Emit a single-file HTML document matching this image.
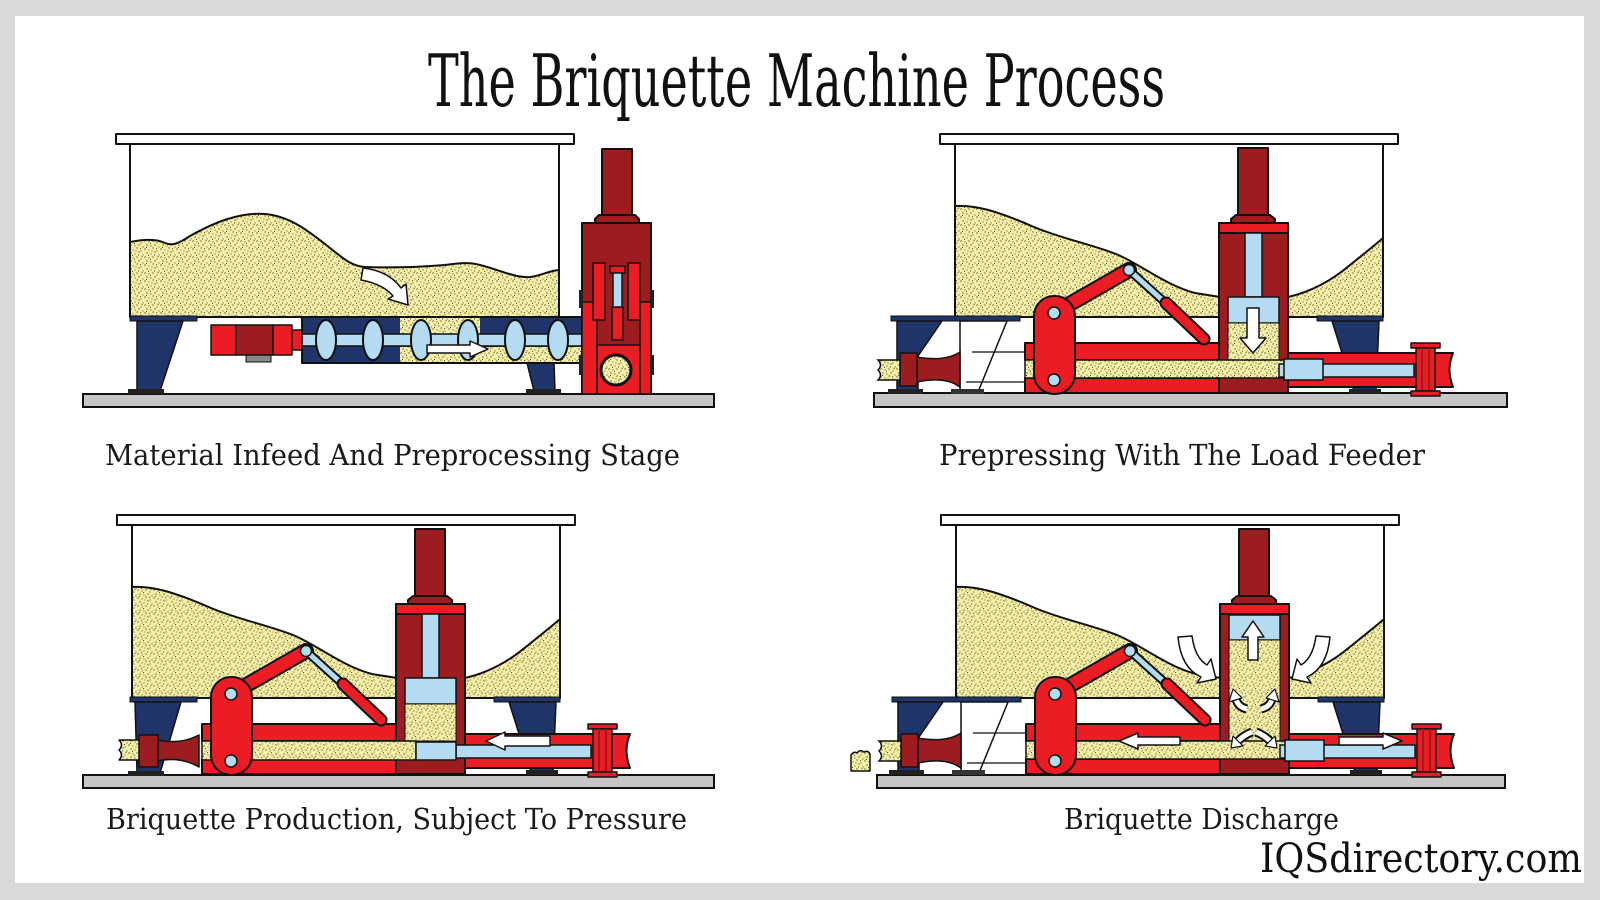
<!DOCTYPE html>
<html><head><meta charset="utf-8"><style>
html,body{margin:0;padding:0;background:#d9d9d9;}
svg{display:block;}
</style></head><body>
<svg width="1600" height="900" viewBox="0 0 1600 900" xmlns="http://www.w3.org/2000/svg" xmlns:xlink="http://www.w3.org/1999/xlink">
<defs>
<pattern id="sd" width="16" height="16" patternUnits="userSpaceOnUse">
<rect width="16" height="16" fill="#f5efa6"/>
<g fill="#1e1e18">
<circle cx="1" cy="1" r=".6"/><circle cx="5" cy="2" r=".55"/><circle cx="9" cy="1" r=".6"/><circle cx="13" cy="3" r=".55"/><circle cx="3" cy="5" r=".6"/><circle cx="7" cy="6" r=".55"/><circle cx="11" cy="5" r=".6"/><circle cx="15" cy="7" r=".55"/><circle cx="1" cy="9" r=".6"/><circle cx="5" cy="10" r=".55"/><circle cx="9" cy="8" r=".6"/><circle cx="13" cy="11" r=".55"/><circle cx="3" cy="13" r=".6"/><circle cx="7" cy="14" r=".55"/><circle cx="11" cy="12" r=".6"/><circle cx="15" cy="15" r=".55"/><circle cx="2.5" cy="7.5" r=".5"/><circle cx="10.5" cy="15" r=".5"/><circle cx="14" cy=".5" r=".5"/><circle cx="8" cy="11" r=".5"/><circle cx="12.5" cy="8.5" r=".5"/><circle cx="4.5" cy="15.5" r=".5"/><circle cx="6.5" cy="3.5" r=".5"/>
</g>
</pattern>

<!-- common press machine (panel 2 frame) -->
<g id="m" stroke-linejoin="round">
 <path d="M955,206 C975,205 995,210 1034,227 C1060,238 1090,244 1116,254 C1140,264 1165,285 1195,293 L1220,297 L1288,297 C1310,292 1330,282 1350,265 C1365,253 1375,245 1383,238 L1383,317 L955,317 Z" fill="url(#sd)"/>
 <path d="M955,206 C975,205 995,210 1034,227 C1060,238 1090,244 1116,254 C1140,264 1165,285 1195,293 L1220,297 M1288,297 C1310,292 1330,282 1350,265 C1365,253 1375,245 1383,238" fill="none" stroke="#111" stroke-width="2"/>
 <path d="M955,144 V317 H1383 V144" fill="none" stroke="#111" stroke-width="2"/>
 <rect x="940" y="134" width="458" height="10" fill="#fff" stroke="#111" stroke-width="2"/>
 <rect x="1317" y="316" width="66" height="5" fill="#1f3468" stroke="#111" stroke-width="1"/>
 <polygon points="1332,321 1379,321 1376,391 1354,391" fill="#1f3468" stroke="#111" stroke-width="1.5"/>
 <rect x="1349" y="389" width="32" height="5" fill="#222"/>
 <rect x="1025" y="343" width="194" height="17" fill="#ec1c24" stroke="#111" stroke-width="2"/>
 <rect x="1025" y="378" width="194" height="15" fill="#ec1c24" stroke="#111" stroke-width="2"/>
 <path d="M1288,353 H1453 Q1446,370 1453,387 H1288 Z" fill="#ec1c24" stroke="#111" stroke-width="2"/>
 <!-- arm -->
 <line x1="1054" y1="313" x2="1129" y2="270" stroke="#111" stroke-width="16" stroke-linecap="round"/>
 <line x1="1054" y1="313" x2="1129" y2="270" stroke="#ec1c24" stroke-width="12" stroke-linecap="round"/>
 <line x1="1129" y1="270" x2="1170" y2="307" stroke="#111" stroke-width="9"/>
 <line x1="1129" y1="270" x2="1170" y2="307" stroke="#b3dcf3" stroke-width="5"/>
 <line x1="1166" y1="303" x2="1204" y2="339" stroke="#111" stroke-width="13" stroke-linecap="round"/>
 <line x1="1166" y1="303" x2="1204" y2="339" stroke="#ec1c24" stroke-width="9" stroke-linecap="round"/>
 <circle cx="1129" cy="270" r="5.5" fill="#b3dcf3" stroke="#111" stroke-width="1.5"/>
 <!-- column -->
 <rect x="1238" y="148" width="30" height="68" fill="#9d1c20" stroke="#111" stroke-width="2"/>
 <path d="M1236,215 H1270 L1275,219 V223 H1231 V219 Z" fill="#9d1c20" stroke="#111" stroke-width="2"/>
 <rect x="1219" y="223" width="69" height="170" fill="#9d1c20" stroke="#111" stroke-width="2"/>
 <rect x="1219" y="223" width="69" height="10" fill="#ec1c24" stroke="#111" stroke-width="2"/>
 <!-- flange -->
 <rect x="1411" y="343" width="29" height="5" fill="#ec1c24" stroke="#111" stroke-width="1.5"/>
 <rect x="1416" y="348" width="19" height="43" fill="#ec1c24" stroke="#111" stroke-width="1.5"/>
 <line x1="1422" y1="348" x2="1422" y2="391" stroke="#9d1c20" stroke-width="2"/>
 <line x1="1429" y1="348" x2="1429" y2="391" stroke="#9d1c20" stroke-width="2"/>
 <rect x="1411" y="391" width="29" height="5" fill="#ec1c24" stroke="#111" stroke-width="1.5"/>
</g>

<!-- lever plate (drawn on top) -->
<g id="lp">
 <rect x="1034" y="296" width="41" height="98" rx="20" fill="#ec1c24" stroke="#111" stroke-width="2"/>
 <circle cx="1054" cy="313" r="6" fill="#b3dcf3" stroke="#111" stroke-width="1.5"/>
 <circle cx="1054" cy="380" r="6" fill="#b3dcf3" stroke="#111" stroke-width="1.5"/>
</g>

<!-- left assembly for panels 2 and 4 -->
<g id="la">
 <rect x="891" y="316" width="129" height="5" fill="#1f3468" stroke="#111" stroke-width="1"/>
 <polygon points="897,321 942,321 918,356 918,392 897,392" fill="#1f3468" stroke="#111" stroke-width="1.5"/>
 <rect x="888" y="389" width="35" height="5" fill="#222"/>
 <polygon points="960,321 1007,321 978,392 960,392" fill="#fff" stroke="#111" stroke-width="1.5"/>
 <path d="M972,352 H1025 M966,382 H1025" stroke="#111" stroke-width="1.2" fill="none"/>
 <rect x="951" y="389" width="33" height="5" fill="#333"/>
 <path d="M917,357 Q945,362 960,352 V387 Q945,376 917,382 Z" fill="#9d1c20" stroke="#111" stroke-width="1.5"/>
 <rect x="900" y="353" width="17" height="33" fill="#9d1c20" stroke="#111" stroke-width="1.5"/>
 <path d="M900,360 H878 q5,5 0,10 q5,5 0,10 H900 Z" fill="url(#sd)" stroke="#111" stroke-width="1.5"/>
</g>
</defs>

<!-- background -->
<rect width="1600" height="900" fill="#d9d9d9"/>
<rect x="15" y="16" width="1569" height="867" fill="#ffffff"/>

<!-- title -->
<text x="428" y="106" font-family="'DejaVu Serif','Liberation Serif',serif" font-size="72" fill="#111" textLength="737" lengthAdjust="spacingAndGlyphs">The Briquette Machine Process</text>

<!-- base plates -->
<rect x="83" y="394" width="631" height="13" fill="#c6c6c6" stroke="#111" stroke-width="2"/>
<rect x="874" y="393" width="633" height="14" fill="#c6c6c6" stroke="#111" stroke-width="2"/>
<rect x="83" y="775" width="631" height="13" fill="#c6c6c6" stroke="#111" stroke-width="2"/>
<rect x="877" y="775" width="628" height="13" fill="#c6c6c6" stroke="#111" stroke-width="2"/>

<!-- ============ PANEL 1 ============ -->
<g stroke-linejoin="round">
 <path d="M130,242 C140,240 155,238 165,243 C172,246 178,244 190,236 C215,222 240,212 265,214 C290,216 310,232 330,248 C345,260 352,266 365,267 C390,268 420,267 445,265 C460,263 470,262 480,265 C500,270 515,278 530,277 C540,276 548,271 559,270 L559,316 L130,316 Z" fill="url(#sd)"/>
 <path d="M130,242 C140,240 155,238 165,243 C172,246 178,244 190,236 C215,222 240,212 265,214 C290,216 310,232 330,248 C345,260 352,266 365,267 C390,268 420,267 445,265 C460,263 470,262 480,265 C500,270 515,278 530,277 C540,276 548,271 559,270" fill="none" stroke="#111" stroke-width="2"/>
 <path d="M130,144 V317 H559 V144" fill="none" stroke="#111" stroke-width="2"/>
 <rect x="116" y="134" width="458" height="10" fill="#fff" stroke="#111" stroke-width="2"/>
 <rect x="130" y="316" width="67" height="5" fill="#1f3468" stroke="#111" stroke-width="1"/>
 <polygon points="137,321 183,321 160,391 137,391" fill="#1f3468" stroke="#111" stroke-width="1.5"/>
 <rect x="128" y="389" width="36" height="5" fill="#222"/>
 <polygon points="527,363 554,363 555,391 534,391" fill="#1f3468" stroke="#111" stroke-width="1.5"/>
 <rect x="526" y="389" width="35" height="5" fill="#222"/>
 <!-- tube -->
 <rect x="302" y="317" width="283" height="46" fill="#1f3468" stroke="#111" stroke-width="2"/>
 <rect x="400" y="347" width="185" height="15" fill="url(#sd)"/>
 <rect x="400" y="318" width="80" height="16" fill="url(#sd)"/>
 <rect x="302" y="334" width="283" height="12" fill="#b3dcf3" stroke="#111" stroke-width="1.5"/>
 <g fill="#b3dcf3" stroke="#111" stroke-width="2">
  <ellipse cx="326" cy="340" rx="10" ry="20"/>
  <ellipse cx="373" cy="340" rx="10" ry="20"/>
  <ellipse cx="421" cy="340" rx="10" ry="20"/>
  <ellipse cx="468" cy="340" rx="10" ry="20"/>
  <ellipse cx="515" cy="340" rx="10" ry="20"/>
  <ellipse cx="558" cy="340" rx="10" ry="20"/>
 </g>
 <polygon points="427,345 470,345 470,341 488,349 470,357 470,353 427,353" fill="#fff" stroke="#111" stroke-width="1.5"/>
 <!-- motor -->
 <rect x="246" y="354" width="25" height="8" fill="#888" stroke="#111" stroke-width="1"/>
 <rect x="211" y="325" width="25" height="30" fill="#ec1c24" stroke="#111" stroke-width="1.5"/>
 <rect x="236" y="325" width="37" height="30" fill="#9d1c20" stroke="#111" stroke-width="1.5"/>
 <rect x="273" y="325" width="19" height="30" fill="#ec1c24" stroke="#111" stroke-width="1.5"/>
 <rect x="292" y="330" width="10" height="20" fill="#ec1c24" stroke="#111" stroke-width="1.5"/>
 <!-- curved arrow -->
 <path d="M363,268 Q389,271 401,288 L406,284 L408,305 L388,299 L393,296 Q383,284 361,280 Z" fill="#fff" stroke="#111" stroke-width="1.5"/>
 <!-- press -->
 <rect x="602" y="149" width="30" height="67" fill="#9d1c20" stroke="#111" stroke-width="2"/>
 <path d="M599,215 H635 L639,219 V223 H595 V219 Z" fill="#9d1c20" stroke="#111" stroke-width="2"/>
 <rect x="582" y="223" width="69" height="171" fill="#9d1c20" stroke="#111" stroke-width="2"/>
 <rect x="582" y="302" width="15" height="92" fill="#ec1c24" stroke="#111" stroke-width="1.5"/>
 <rect x="640" y="302" width="11" height="92" fill="#ec1c24" stroke="#111" stroke-width="1.5"/>
 <rect x="597" y="345" width="43" height="49" fill="#ec1c24" stroke="#111" stroke-width="1.5"/>
 <rect x="593" y="263" width="12" height="57" fill="#ec1c24" stroke="#111" stroke-width="1.5"/>
 <rect x="628" y="263" width="12" height="57" fill="#ec1c24" stroke="#111" stroke-width="1.5"/>
 <rect x="612" y="307" width="11" height="33" fill="#ec1c24" stroke="#111" stroke-width="1.5"/>
 <rect x="613" y="272" width="9" height="35" fill="#b3dcf3" stroke="#111" stroke-width="1.5"/>
 <rect x="610" y="266" width="15" height="7" fill="#ec1c24" stroke="#111" stroke-width="1.5"/>
 <circle cx="616" cy="370" r="15" fill="url(#sd)" stroke="#111" stroke-width="3"/>
 <rect x="579" y="290" width="4" height="18" fill="#222"/>
 <rect x="650" y="290" width="4" height="18" fill="#222"/>
 <rect x="579" y="355" width="4" height="20" fill="#222"/>
 <rect x="650" y="355" width="4" height="20" fill="#222"/>
</g>

<!-- ============ PANEL 2 ============ -->
<use xlink:href="#m" href="#m"/>
<use xlink:href="#la" href="#la"/>
<g stroke-linejoin="round">
 <rect x="1245" y="233" width="17" height="64" fill="#b3dcf3" stroke="#111" stroke-width="1.5"/>
 <rect x="1228" y="297" width="51" height="26" fill="#b3dcf3" stroke="#111" stroke-width="1.5"/>
 <rect x="1228" y="323" width="51" height="37" fill="url(#sd)" stroke="#111" stroke-width="1"/>
 <polygon points="1247,308 1259,308 1259,338 1266,338 1253,353 1240,338 1247,338" fill="#fff" stroke="#111" stroke-width="1.5"/>
 <rect x="1025" y="360" width="259" height="18" fill="url(#sd)" stroke="#111" stroke-width="1.5"/>
 <rect x="1279" y="364" width="135" height="13" fill="#b3dcf3" stroke="#111" stroke-width="1.5"/>
 <rect x="1284" y="359" width="39" height="21" fill="#b3dcf3" stroke="#111" stroke-width="1.5"/>
</g>
<use xlink:href="#lp" href="#lp"/>

<!-- ============ PANEL 3 ============ -->
<g transform="translate(-823,381)">
 <use xlink:href="#m" href="#m"/>
 <rect x="1245" y="233" width="17" height="64" fill="#b3dcf3" stroke="#111" stroke-width="1.5"/>
 <rect x="1228" y="297" width="51" height="26" fill="#b3dcf3" stroke="#111" stroke-width="1.5"/>
 <rect x="1228" y="323" width="51" height="37" fill="url(#sd)" stroke="#111" stroke-width="1"/>
 <rect x="1025" y="360" width="214" height="19" fill="url(#sd)" stroke="#111" stroke-width="1.5"/>
 <rect x="1279" y="364" width="135" height="13" fill="#b3dcf3" stroke="#111" stroke-width="1.5"/>
 <rect x="1239" y="361" width="40" height="18" fill="#b3dcf3" stroke="#111" stroke-width="1.5"/>
 <use xlink:href="#lp" href="#lp"/>
</g>
<g stroke-linejoin="round">
 <rect x="130" y="697" width="67" height="5" fill="#1f3468" stroke="#111" stroke-width="1"/>
 <polygon points="135,702 181,702 160,773 137,773" fill="#1f3468" stroke="#111" stroke-width="1.5"/>
 <rect x="128" y="771" width="36" height="5" fill="#222"/>
 <path d="M158,740 Q180,745 199,735 V767 Q180,756 158,761 Z" fill="#9d1c20" stroke="#111" stroke-width="1.5"/>
 <rect x="139" y="735" width="19" height="32" fill="#9d1c20" stroke="#111" stroke-width="1.5"/>
 <path d="M139,740 H119 q5,5 0,10 q5,5 0,10 H139 Z" fill="url(#sd)" stroke="#111" stroke-width="1.5"/>
 <polygon points="550,736 505,736 505,732 486,741 505,750 505,746 550,746" fill="#fff" stroke="#111" stroke-width="1.5"/>
</g>

<!-- ============ PANEL 4 ============ -->
<g transform="translate(1,381)">
 <use xlink:href="#m" href="#m"/>
 <use xlink:href="#la" href="#la"/>
 <rect x="1228" y="234" width="51" height="25" fill="#b3dcf3" stroke="#111" stroke-width="1.5"/>
 <rect x="1228" y="259" width="51" height="101" fill="url(#sd)" stroke="#111" stroke-width="1"/>
 <rect x="1025" y="360" width="259" height="18" fill="url(#sd)" stroke="#111" stroke-width="1.5"/>
 <rect x="1279" y="364" width="135" height="13" fill="#b3dcf3" stroke="#111" stroke-width="1.5"/>
 <rect x="1284" y="359" width="39" height="21" fill="#b3dcf3" stroke="#111" stroke-width="1.5"/>
 <use xlink:href="#lp" href="#lp"/>
</g>
<g stroke-linejoin="round">
 <path d="M851,771 V755 q3,-4 6,-2 q3,-4 7,-1 q4,-2 6,2 V771 Z" fill="url(#sd)" stroke="#111" stroke-width="1.5"/>
 <polygon points="1248,660 1248,637 1242,637 1253,621 1264,637 1258,637 1258,660" fill="#fff" stroke="#111" stroke-width="1.5"/>
 <!-- big curved arrows -->
 <path d="M1178,637 L1192,636 Q1195,658 1207,665 L1211,659 L1216,679 L1197,683 L1201,677 Q1181,668 1178,637 Z" fill="#fff" stroke="#111" stroke-width="1.5"/>
 <path d="M1330,637 L1316,636 Q1313,658 1301,665 L1297,659 L1292,679 L1311,683 L1307,677 Q1327,668 1330,637 Z" fill="#fff" stroke="#111" stroke-width="1.5"/>
 <!-- small arrows -->
 <g fill="none">
  <path d="M1247,709 Q1238,707 1236,699" stroke="#111" stroke-width="9"/>
  <path d="M1247,709 Q1238,707 1236,699" stroke="#fff" stroke-width="5"/>
  <path d="M1261,709 Q1270,707 1272,699" stroke="#111" stroke-width="9"/>
  <path d="M1261,709 Q1270,707 1272,699" stroke="#fff" stroke-width="5"/>
  <path d="M1252,732 Q1244,735 1238,741" stroke="#111" stroke-width="9"/>
  <path d="M1252,732 Q1244,735 1238,741" stroke="#fff" stroke-width="5"/>
  <path d="M1256,732 Q1264,735 1270,741" stroke="#111" stroke-width="9"/>
  <path d="M1256,732 Q1264,735 1270,741" stroke="#fff" stroke-width="5"/>
 </g>
 <g fill="#fff" stroke="#111" stroke-width="1.2">
  <polygon points="1233,689 1242,698 1229,702"/>
  <polygon points="1275,689 1266,698 1279,702"/>
  <polygon points="1231,748 1243,746 1233,736"/>
  <polygon points="1277,748 1265,746 1275,736"/>
 </g>
 <polygon points="1180,737 1138,737 1138,733 1119,741 1138,749 1138,745 1180,745" fill="#fff" stroke="#111" stroke-width="1.5"/>
 <polygon points="1339,737 1383,737 1383,733 1402,741 1383,749 1383,745 1339,745" fill="#fff" stroke="#111" stroke-width="1.5"/>
</g>

<!-- captions -->
<g font-family="'DejaVu Serif','Liberation Serif',serif" font-size="29" fill="#1a1a1a">
 <text x="105" y="465" textLength="575" lengthAdjust="spacingAndGlyphs">Material Infeed And Preprocessing Stage</text>
 <text x="939" y="465" textLength="486" lengthAdjust="spacingAndGlyphs">Prepressing With The Load Feeder</text>
 <text x="106" y="829" textLength="581" lengthAdjust="spacingAndGlyphs">Briquette Production, Subject To Pressure</text>
 <text x="1064" y="829" textLength="275" lengthAdjust="spacingAndGlyphs">Briquette Discharge</text>
</g>
<text x="1260" y="872" font-family="'DejaVu Serif','Liberation Serif',serif" font-size="40" fill="#111" textLength="322" lengthAdjust="spacingAndGlyphs">IQSdirectory.com</text>
</svg>
</body></html>
